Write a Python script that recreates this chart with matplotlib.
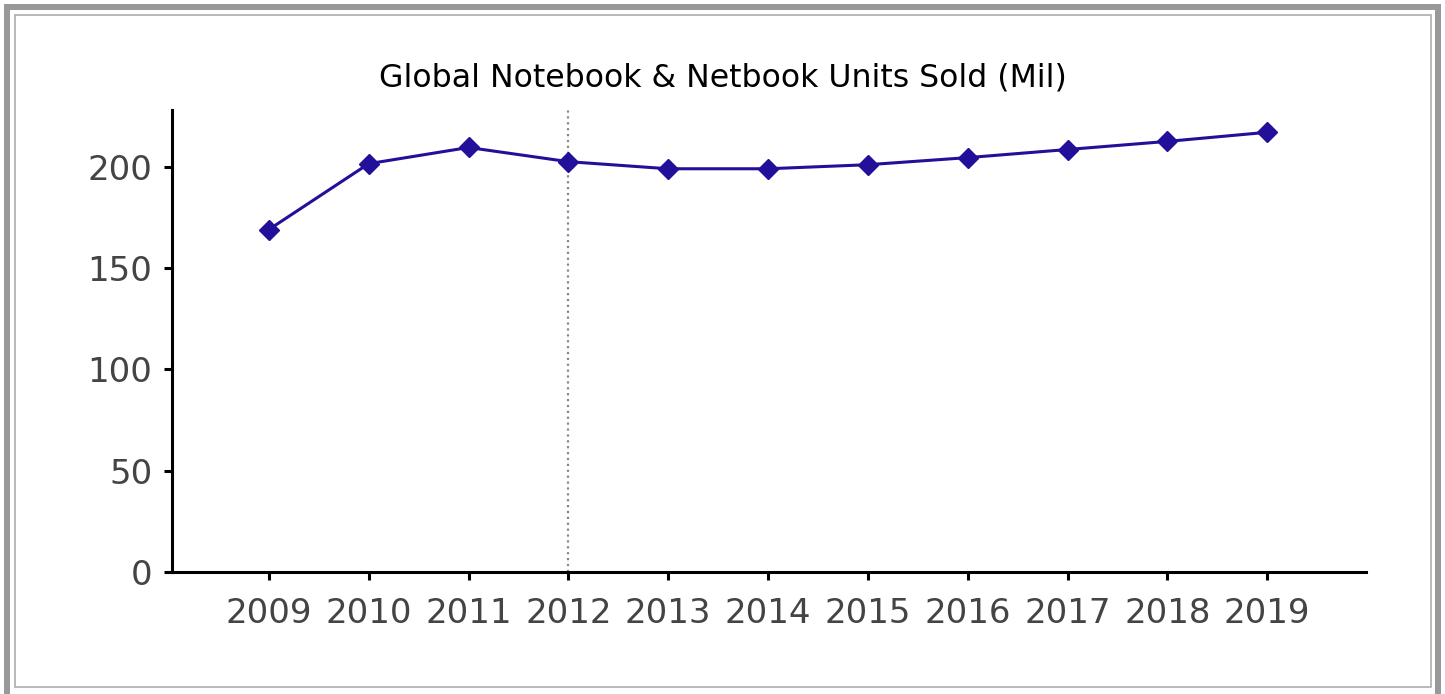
import matplotlib
matplotlib.use("Agg")
import matplotlib.pyplot as plt
from matplotlib.patches import Rectangle

years = [2009, 2010, 2011, 2012, 2013, 2014, 2015, 2016, 2017, 2018, 2019]
units = [169, 201.5, 209.5, 202.5, 199, 199, 201, 204.5, 208.5, 212.5, 217]
yticks = [0, 50, 100, 150, 200]
split_year = 2012

W, H = 1445, 694
plt.rcParams['font.family'] = ['DejaVu Sans']
fig = plt.figure(figsize=(W/100, H/100), dpi=100)
ax = fig.add_axes([172/W, 1-572/H, (1366-172)/W, (572-110)/H])

ax.plot(years, units, '-', color='#22109a', lw=2.2, marker='D', ms=10,
        mec='#22109a', mfc='#22109a')
ax.axvline(split_year, color='#888888', ls=':', lw=1.6, zorder=0)

ax.set_xlim(2008.03, 2019.99)
ax.set_ylim(0, 228)
ax.set_xticks(years)
ax.set_yticks(yticks)
ax.spines['top'].set_visible(False)
ax.spines['right'].set_visible(False)
for s in ['left', 'bottom']:
    ax.spines[s].set_linewidth(2.2)
ax.tick_params(axis='both', length=6, width=2.2, labelsize=24.5,
               labelcolor='#444444')
ax.tick_params(axis='y', pad=8)
ax.tick_params(axis='x', pad=12)

fig.text(0.5, 1-78/H, 'Global Notebook & Netbook Units Sold (Mil)',
         ha='center', va='center', fontsize=22.7, color='black')

# frame around the figure
def px_rect(x0, y0, x1, y1, lw, color):
    fig.patches.append(Rectangle((x0/W, 1-y1/H), (x1-x0)/W, (y1-y0)/H,
                                 transform=fig.transFigure, fill=False,
                                 lw=lw*0.72, ec=color, zorder=10))

px_rect(7, 7, 1438, 697, 6, '#999999')
px_rect(15, 15, 1431, 687, 1.6, '#aaaaaa')

fig.savefig('out.png', dpi=100)
